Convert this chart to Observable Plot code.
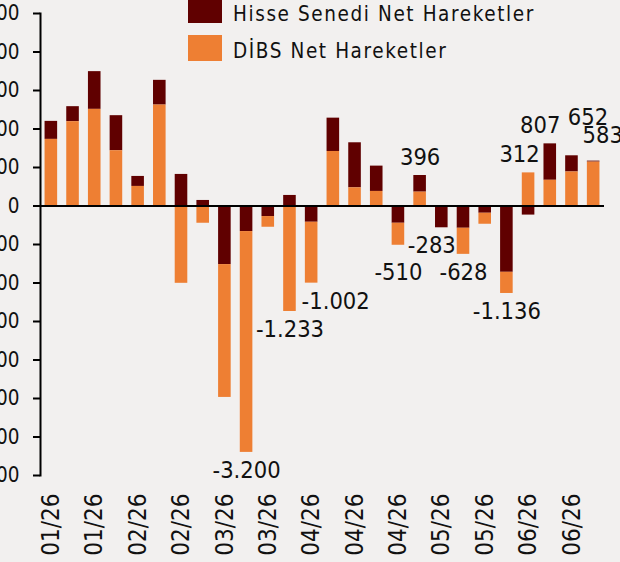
<!DOCTYPE html>
<html>
<head>
<meta charset="utf-8">
<script src="https://cdn.jsdelivr.net/npm/d3@7"></script>
<script src="https://cdn.jsdelivr.net/npm/@observablehq/plot@0.6"></script>
<style>
  html, body { margin: 0; padding: 0; background: #f2f0ef; overflow: hidden; width: 620px; height: 562px; }
  #wrap { position: relative; width: 620px; height: 562px; overflow: hidden; font-family: "DejaVu Sans Condensed", "DejaVu Sans", sans-serif; }
  #chart { position: absolute; left: -60px; top: 0; }
  .lt { position: absolute; left: 233px; font-size: 20.5px; letter-spacing: 1.6px; color: #111; white-space: nowrap; line-height: 1; }
</style>
</head>
<body>
<div id="wrap">
  <div id="chart"></div>
</div>
<script>
// ---- data ----
const tickLabels = ["01/26","01/26","02/26","02/26","03/26","03/26","04/26","04/26","04/26","05/26","05/26","06/26","06/26"];
const seriesNames = ["Hisse Senedi Net Hareketler", "DİBS Net Hareketler"];
const hisse = [234,195,490,455,130,321,410,72,-761,-332,-137,137,-211,433,585,329,-224,216,-283,-289,-94,-861,-118,473,210,13];
const dibs  = [865,1095,1255,718,254,1311,-1004,-224,-1725,-2868,-139,-1370,-791,708,236,189,-286,180,0,-339,-143,-275,430,334,442,570];
const labelWeeks  = [9,11,12,16,17,18,19,21,22,23,24,25];
const labelValues = [-3200,-1233,-1002,-510,396,-283,-628,-1136,312,807,652,583];
const yTicks = [2500,2000,1500,1000,500,0,-500,-1000,-1500,-2000,-2500,-3000,-3500];

// ---- styles ----
const colors = ["#600000", "#ee7f33"];
const font = '"DejaVu Sans Condensed", "DejaVu Sans", sans-serif';
const nudge = {12:[24,0], 16:[0,9], 18:[-10,0], 22:[-9,0], 23:[-10,0], 24:[16,-20], 25:[9,-8]};

const nWeeks = hisse.length;
const weeks = d3.range(nWeeks);
const rows = [];
weeks.forEach(i => {
  rows.push({i, s: seriesNames[0], v: hisse[i]});
  rows.push({i, s: seriesNames[1], v: dibs[i]});
});
const pos = rows.filter(d => d.v > 0);
const neg = rows.filter(d => d.v < 0);

const loc = d3.formatLocale({decimal: ",", thousands: ".", grouping: [3], currency: ["", ""], minus: "-"});
const fmt = loc.format(",d");

const labels = labelWeeks.map((w, k) => {
  const v = labelValues[k];
  const p = (hisse[w] > 0 ? hisse[w] : 0) + (dibs[w] > 0 ? dibs[w] : 0);
  const n = (hisse[w] < 0 ? hisse[w] : 0) + (dibs[w] < 0 ? dibs[w] : 0);
  return {i: w, v, y: v >= 0 ? p : n, text: fmt(v)};
});

const labelMarks = labels.map(d => {
  const [nx, ny] = nudge[d.i] || [0, 0];
  return Plot.text([d], {x: "i", y: "y", text: "text", dx: nx, dy: (d.v >= 0 ? -18 : 18) + ny,
    fontSize: 23.5, fill: "#111", fontFamily: font});
});

const evenWeeks = weeks.filter(i => i % 2 === 0);

const chart = Plot.plot({
  width: 680,
  height: 562,
  marginLeft: 100,
  marginRight: 16,
  marginTop: 13,
  marginBottom: 87,
  style: {background: "#f2f0ef", fontFamily: font, color: "#111", overflow: "visible"},
  x: {type: "band", domain: weeks, paddingInner: 0.42, paddingOuter: 0.21, round: false, axis: null},
  y: {domain: [-3500, 2500], axis: null},
  color: {domain: seriesNames, range: colors},
  marks: [
    Plot.barY(pos, Plot.stackY({order: [seriesNames[1], seriesNames[0]], x: "i", y: "v", fill: "s"})),
    Plot.barY(neg, Plot.stackY({order: [seriesNames[0], seriesNames[1]], x: "i", y: "v", fill: "s"})),
    Plot.ruleY([0], {stroke: "#000", strokeWidth: 2.2}),
    Plot.frame({anchor: "left", stroke: "#000", strokeWidth: 2}),
    Plot.axisY({ticks: yTicks, tickFormat: fmt, tickSize: 7, tickPadding: 14, fontSize: 20.5, strokeWidth: 2, stroke: "#000", fill: "#111", fontFamily: font, label: null}),
    Plot.axisX({ticks: evenWeeks, tickFormat: i => tickLabels[i / 2], tickRotate: -90, tickSize: 0, tickPadding: 18, fontSize: 24, fill: "#111", fontFamily: font, label: null}),
    ...labelMarks
  ]
});
document.getElementById("chart").appendChild(chart);

// legend
const wrap = document.getElementById("wrap");
[[-3, 20], [35, 57]].forEach(([top, base], k) => {
  const sw = document.createElement("div");
  sw.style.cssText = `position:absolute;left:188px;top:${top}px;width:34px;height:26px;background:${colors[k]};`;
  wrap.appendChild(sw);
  const t = document.createElement("div");
  t.className = "lt";
  t.textContent = seriesNames[k];
  t.style.top = (base - 16) + "px";
  wrap.appendChild(t);
});
</script>
</body>
</html>
